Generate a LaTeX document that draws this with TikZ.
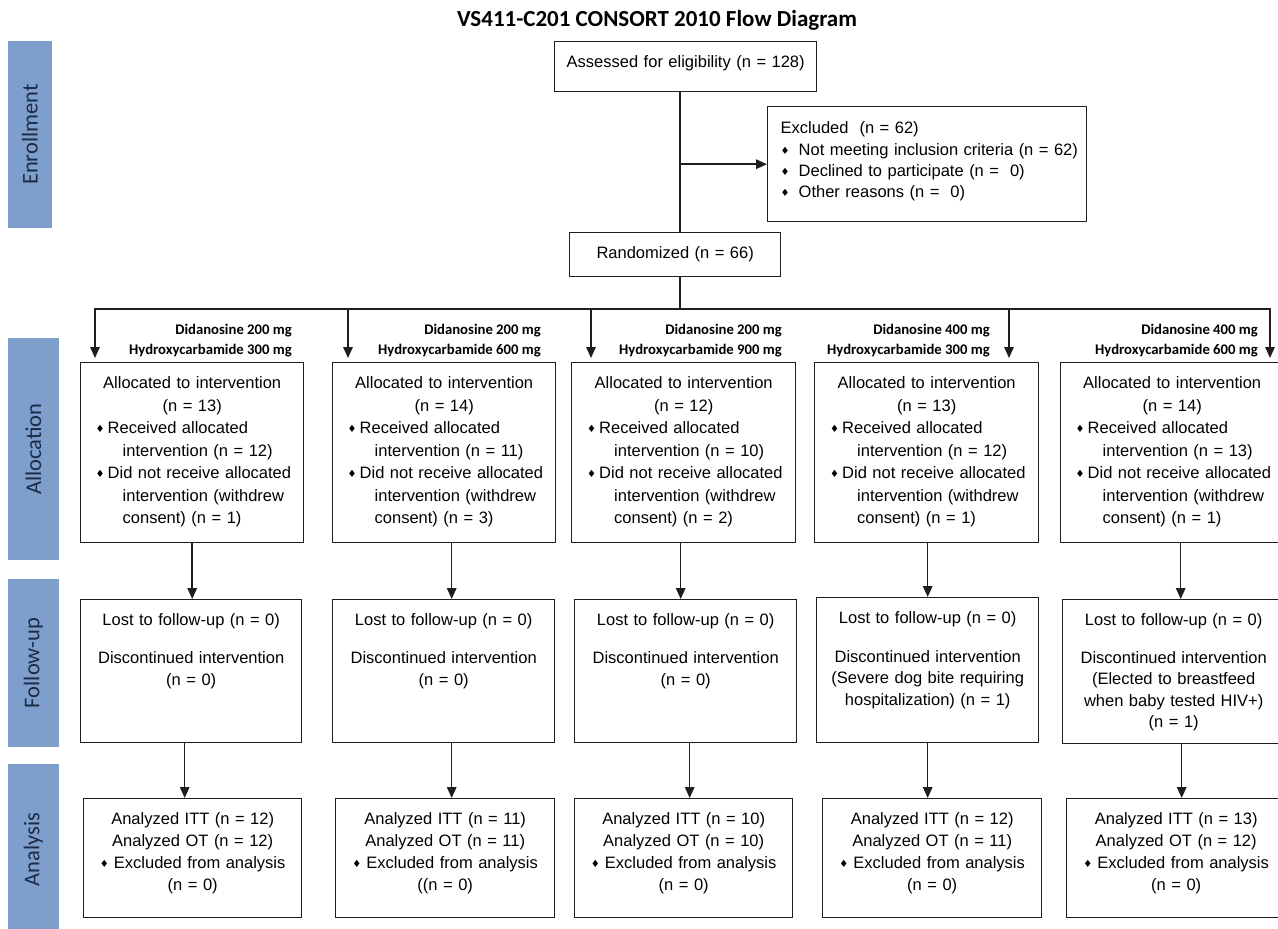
\documentclass[tikz,border=0pt]{standalone}
\usepackage{fontspec}
\usepackage{graphicx}
\setmainfont{Liberation Sans}
\newfontfamily\calibri{Carlito}
\newfontfamily\diafont{DejaVu Sans}
\usetikzlibrary{arrows.meta}

\definecolor{phasefill}{HTML}{7E9FCB}
\definecolor{phasetext}{HTML}{1C2B48}
\definecolor{boxline}{HTML}{1E1E1E}

% small diamond bullet and list lines
\newcommand{\bul}{\raisebox{1pt}{{\diafont\fontsize{10}{10}\selectfont ♦}}}
\newcommand{\itm}[1]{\makebox[223pt][l]{\hspace*{15pt}\makebox[12pt][l]{\bul}#1}}
\newcommand{\cnt}[1]{\makebox[223pt][l]{\hspace*{42pt}#1}}
\newcommand{\xitm}[1]{\makebox[300pt][l]{\makebox[18pt][l]{\bul}#1}}

\tikzset{
  box/.style={draw=boxline, line width=1.4pt, anchor=north west, inner sep=0pt,
    align=center, text height=26pt, font=\fontsize{16.5}{22.5}\selectfont},
  phase/.style={fill=phasefill, text=phasetext, rotate=90, inner sep=0pt,
    font=\calibri\fontsize{22.5}{24}\selectfont},
  dose/.style={anchor=base east, align=right, inner sep=0pt,
    font=\calibri\bfseries\fontsize{14.7}{20}\selectfont},
  arr/.style={draw=boxline, line width=1.5pt, -{Triangle[length=11pt,width=9.5pt]}},
  link/.style={draw=boxline, line width=1.5pt}
}

\begin{document}
\begin{tikzpicture}[x=1pt,y=-1pt]
\fill[white] (0,0) rectangle (1278,929);
\useasboundingbox (0,0) rectangle (1278,929);

% title
\node[font=\calibri\bfseries\fontsize{23}{26}\selectfont, anchor=base] (title) at (657,26) {VS411-C201 CONSORT 2010 Flow Diagram};

% phase bars
\node[phase, minimum width=187pt, minimum height=44pt] (enrol) at (30,134.5) {Enrollment};
\node[phase, minimum width=222pt, minimum height=51pt] (alloc) at (33.5,449) {Allocation};
\node[phase, minimum width=168pt, minimum height=51pt] (follow) at (33.5,663) {Follow-up};
\node[phase, minimum width=171pt, minimum height=51pt] (analys) at (33.5,849.5) {Analysis};

% enrollment
\node[box, text width=262pt, text depth=24pt] (assess) at (554,41) {Assessed for eligibility (n = 128)};
\node[box, align=left, text width=319pt, text height=27pt, text depth=88pt,
  font=\fontsize{16.5}{21.3}\selectfont] (excl) at (767,106)
  {\hspace*{13pt}Excluded\ \ (n = 62)\\ \hspace*{13pt}\xitm{Not meeting inclusion criteria (n = 62)}\\
   \hspace*{13pt}\xitm{Declined to participate (n =\ \ 0)}\\ \hspace*{13pt}\xitm{Other reasons (n =\ \ 0)}};
\node[box, text width=211pt, text depth=18pt] (rand) at (569,232) {Randomized (n = 66)};

% dose labels
\node[dose] (dose1) at (292,354) {Didanosine 200 mg\\ Hydroxycarbamide 300 mg};
\node[dose] (dose2) at (541,354) {Didanosine 200 mg\\ Hydroxycarbamide 600 mg};
\node[dose] (dose3) at (782,354) {Didanosine 200 mg\\ Hydroxycarbamide 900 mg};
\node[dose] (dose4) at (990,354) {Didanosine 400 mg\\ Hydroxycarbamide 300 mg};
\node[dose] (dose5) at (1258,354) {Didanosine 400 mg\\ Hydroxycarbamide 600 mg};

% allocation
\node[box, text width=223pt, text depth=154pt] (alloc1) at (80,362)
  {Allocated to intervention\\ (n = 13)\\ \itm{Received allocated}\\ \cnt{intervention (n = 12)}\\
   \itm{Did not receive allocated}\\ \cnt{intervention (withdrew}\\ \cnt{consent) (n = 1)}};
\node[box, text width=223pt, text depth=154pt] (alloc2) at (332,362)
  {Allocated to intervention\\ (n = 14)\\ \itm{Received allocated}\\ \cnt{intervention (n = 11)}\\
   \itm{Did not receive allocated}\\ \cnt{intervention (withdrew}\\ \cnt{consent) (n = 3)}};
\node[box, text width=224pt, text depth=154pt] (alloc3) at (571,362)
  {Allocated to intervention\\ (n = 12)\\ \itm{Received allocated}\\ \cnt{intervention (n = 10)}\\
   \itm{Did not receive allocated}\\ \cnt{intervention (withdrew}\\ \cnt{consent) (n = 2)}};
\node[box, text width=224pt, text depth=154pt] (alloc4) at (814,362)
  {Allocated to intervention\\ (n = 13)\\ \itm{Received allocated}\\ \cnt{intervention (n = 12)}\\
   \itm{Did not receive allocated}\\ \cnt{intervention (withdrew}\\ \cnt{consent) (n = 1)}};
\node[box, text width=223pt, text depth=154pt] (alloc5) at (1060,362)
  {Allocated to intervention\\ (n = 14)\\ \itm{Received allocated}\\ \cnt{intervention (n = 13)}\\
   \itm{Did not receive allocated}\\ \cnt{intervention (withdrew}\\ \cnt{consent) (n = 1)}};

% follow-up
\node[box, text width=221pt, text depth=117pt] (fu1) at (80,599)
  {Lost to follow-up (n = 0)\\[15pt] Discontinued intervention\\ (n = 0)};
\node[box, text width=222pt, text depth=117pt] (fu2) at (332,599)
  {Lost to follow-up (n = 0)\\[15pt] Discontinued intervention\\ (n = 0)};
\node[box, text width=222pt, text depth=117pt] (fu3) at (574,599)
  {Lost to follow-up (n = 0)\\[15pt] Discontinued intervention\\ (n = 0)};
\node[box, text width=222pt, text depth=119pt, font=\fontsize{16.5}{21.5}\selectfont] (fu4) at (816,597)
  {Lost to follow-up (n = 0)\\[17pt] Discontinued intervention\\ (Severe dog bite requiring\\ hospitalization) (n = 1)};
\node[box, text width=222pt, text depth=118pt, font=\fontsize{16.5}{21.5}\selectfont] (fu5) at (1062,599)
  {Lost to follow-up (n = 0)\\[16pt] Discontinued intervention\\ (Elected to breastfeed\\ when baby tested HIV+)\\ (n = 1)};

% analysis
\node[box, text width=218pt, text depth=93pt, font=\fontsize{16.5}{22}\selectfont] (an1) at (83,798)
  {Analyzed ITT (n = 12)\\ Analyzed OT (n = 12)\\ \bul\hspace{5pt}Excluded from analysis\\ (n = 0)};
\node[box, text width=219pt, text depth=93pt, font=\fontsize{16.5}{22}\selectfont] (an2) at (335,798)
  {Analyzed ITT (n = 11)\\ Analyzed OT (n = 11)\\ \bul\hspace{5pt}Excluded from analysis\\ ((n = 0)};
\node[box, text width=218pt, text depth=93pt, font=\fontsize{16.5}{22}\selectfont] (an3) at (574,798)
  {Analyzed ITT (n = 10)\\ Analyzed OT (n = 10)\\ \bul\hspace{5pt}Excluded from analysis\\ (n = 0)};
\node[box, text width=219pt, text depth=93pt, font=\fontsize{16.5}{22}\selectfont] (an4) at (822,798)
  {Analyzed ITT (n = 12)\\ Analyzed OT (n = 11)\\ \bul\hspace{5pt}Excluded from analysis\\ (n = 0)};
\node[box, text width=219pt, text depth=93pt, font=\fontsize{16.5}{22}\selectfont] (an5) at (1066,798)
  {Analyzed ITT (n = 13)\\ Analyzed OT (n = 12)\\ \bul\hspace{5pt}Excluded from analysis\\ (n = 0)};

% trunk and split
\coordinate (trunk) at (680,309);
\draw[link] (assess.south -| trunk) -- (rand.north -| trunk);
\draw[arr] (excl.west -| trunk) -- (excl.west);
\draw[link] (rand.south -| trunk) -- (trunk);
\coordinate (in1) at (95,358);
\coordinate (in2) at (348,358);
\coordinate (in3) at (591,358);
\coordinate (in4) at (1009,358);
\coordinate (in5) at (1270,358);
\foreach \i in {1,...,5}
  \draw[arr] (trunk) -| (in\i);

% column arrows
\foreach \i/\sa/\sb in {1/0/-6.5, 2/7.5/8, 3/-3/4, 4/1/0, 5/8.5/8} {
  \draw[arr] ([xshift=\sa pt]alloc\i.south) -- ([xshift=\sa pt]alloc\i.south |- fu\i.north);
  \draw[arr] ([xshift=\sb pt]fu\i.south) -- ([xshift=\sb pt]fu\i.south |- an\i.north);
}
\end{tikzpicture}
\end{document}
